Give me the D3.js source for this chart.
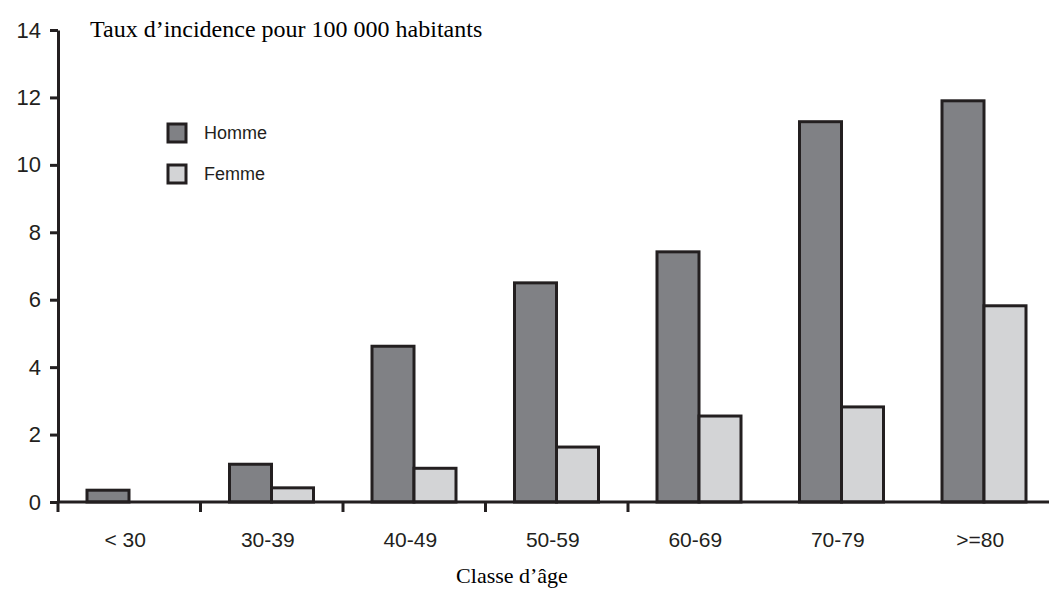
<!DOCTYPE html>
<html>
<head>
<meta charset="utf-8">
<script src="https://cdn.jsdelivr.net/npm/d3@7"></script>
<style>
  body { margin: 0; background: #fff; }
  svg { display: block; }
</style>
</head>
<body>
<svg id="chart" width="1049" height="590"></svg>
<script>
// données
const categories = ["< 30", "30-39", "40-49", "50-59", "60-69", "70-79", ">=80"];
const series = ["Homme", "Femme"];
const hommeValues = [0.35, 1.12, 4.62, 6.5, 7.42, 11.28, 11.9];
const femmeValues = [0, 0.42, 1.0, 1.63, 2.55, 2.82, 5.82];
const yTicks = [0, 2, 4, 6, 8, 10, 12, 14];
const colors = { "Homme": "#808185", "Femme": "#d3d4d6" };

const svg = d3.select("#chart");
const ink = "#231f20";

// échelles
const x = d3.scaleBand().domain(categories).range([58, 58 + 7 * 142.5]).padding(0);
const xInner = d3.scaleBand().domain(series).range([29, 113]).padding(0);
const y = d3.scaleLinear().domain([0, 14]).range([502, 30]);

const rows = categories.map((c, i) => ({ cat: c, Homme: hommeValues[i], Femme: femmeValues[i] }));

// barres
const groups = svg.append("g").selectAll("g")
  .data(rows)
  .join("g")
  .attr("transform", d => `translate(${x(d.cat)},0)`);

groups.selectAll("rect")
  .data(d => series.map(s => ({ key: s, value: d[s] })).filter(e => e.value > 0))
  .join("rect")
  .attr("x", d => xInner(d.key))
  .attr("y", d => y(d.value))
  .attr("width", xInner.bandwidth())
  .attr("height", d => y(0) - y(d.value))
  .attr("fill", d => colors[d.key])
  .attr("stroke", ink)
  .attr("stroke-width", 3);

// axe Y
const yAxis = svg.append("g")
  .attr("transform", "translate(58,0)")
  .call(d3.axisLeft(y).tickValues(yTicks).tickSize(8).tickPadding(9).tickSizeOuter(0));
yAxis.select(".domain").attr("stroke", ink).attr("stroke-width", 3);
yAxis.selectAll(".tick line").attr("stroke", ink).attr("stroke-width", 3);
yAxis.selectAll(".tick text")
  .attr("fill", ink)
  .style("font-family", "'Liberation Sans', Arial, sans-serif")
  .style("font-size", "22px");

// axe X
const xAxis = svg.append("g")
  .attr("transform", "translate(0,502)")
  .call(d3.axisBottom(x).tickSize(0).tickPadding(30).tickSizeOuter(0));
xAxis.select(".domain").attr("d", "M58,0H1049").attr("stroke", ink).attr("stroke-width", 3);
xAxis.selectAll(".tick text")
  .attr("fill", ink)
  .attr("dx", -4)
  .style("font-family", "'Liberation Sans', Arial, sans-serif")
  .style("font-size", "21px");

// petites graduations entre classes
svg.append("g").selectAll("line")
  .data(categories.slice(0, 5))
  .join("line")
  .attr("x1", d => x(d))
  .attr("x2", d => x(d))
  .attr("y1", 502)
  .attr("y2", 512)
  .attr("stroke", ink)
  .attr("stroke-width", 3);

// titres
svg.append("text")
  .attr("x", 90)
  .attr("y", 37)
  .attr("fill", "#000")
  .style("font-family", "'Liberation Serif', 'Times New Roman', serif")
  .style("font-size", "24px")
  .text("Taux d’incidence pour 100 000 habitants");

svg.append("text")
  .attr("x", 512)
  .attr("y", 583)
  .attr("text-anchor", "middle")
  .attr("fill", "#000")
  .style("font-family", "'Liberation Serif', 'Times New Roman', serif")
  .style("font-size", "22px")
  .text("Classe d’âge");

// légende
const legend = svg.append("g").attr("transform", "translate(168,124)");
const items = legend.selectAll("g")
  .data(series)
  .join("g")
  .attr("transform", (d, i) => `translate(0,${i * 41})`);
items.append("rect")
  .attr("width", 18)
  .attr("height", 18)
  .attr("fill", d => colors[d])
  .attr("stroke", ink)
  .attr("stroke-width", 3);
items.append("text")
  .attr("x", 36)
  .attr("y", 9)
  .attr("dy", "0.35em")
  .attr("fill", ink)
  .style("font-family", "'Liberation Sans', Arial, sans-serif")
  .style("font-size", "18px")
  .text(d => d);
</script>
</body>
</html>
